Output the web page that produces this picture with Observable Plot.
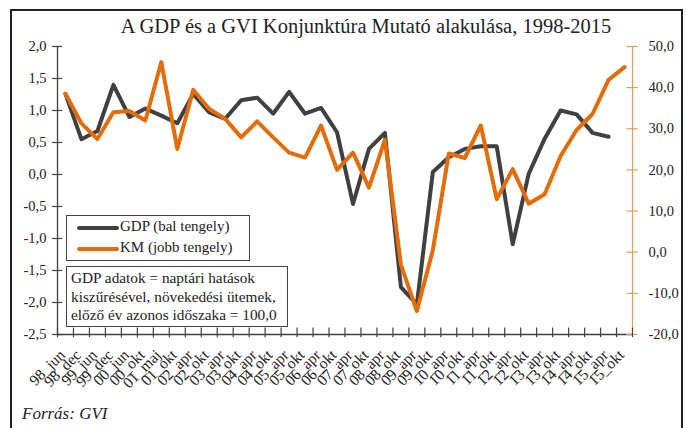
<!DOCTYPE html>
<html>
<head>
<meta charset="utf-8">
<script src="https://cdn.jsdelivr.net/npm/d3@7"></script>
<script src="https://cdn.jsdelivr.net/npm/@observablehq/plot@0.6"></script>
<style>
  html, body { margin: 0; padding: 0; background: #fff; }
  #wrap { position: relative; width: 688px; height: 428px; overflow: hidden; font-family: "Liberation Serif", "DejaVu Serif", serif; color: #222; }
  #frame { position: absolute; left: 10px; top: 9px; width: 673px; height: 440px; border: 2px solid #222; box-sizing: border-box; }
  #chart { position: absolute; left: 0; top: 0; }
  .abs { position: absolute; white-space: nowrap; }
  #title { top: 15px; left: 0; width: 732px; text-align: center; font-size: 20.5px; }
  #legend { left: 66px; top: 215px; width: 184px; height: 46px; border: 1.5px solid #444; box-sizing: border-box; background: #fff; font-size: 15px; }
  #note { left: 66px; top: 266px; width: 222px; height: 61px; border: 1.5px solid #444; box-sizing: border-box; background: #fff; font-size: 15.3px; line-height: 18.5px; padding: 2px 0 0 4px; }
  .sw { position: absolute; left: 10px; width: 42px; height: 4px; border-radius: 2px; }
  .lt { position: absolute; left: 53px; }
  #source { left: 22px; top: 404px; font-size: 17px; font-style: italic; }
</style>
</head>
<body>
<div id="wrap">
  <div id="frame"></div>
  <div id="chart"></div>
  <div id="title" class="abs">A GDP és a GVI Konjunktúra Mutató alakulása, 1998-2015</div>
  <div id="legend" class="abs">
    <div class="sw" style="top:10px;background:#404040"></div><div class="lt" style="top:2px">GDP (bal tengely)</div>
    <div class="sw" style="top:31px;background:#e46c0a"></div><div class="lt" style="top:23px">KM (jobb tengely)</div>
  </div>
  <div id="note" class="abs">GDP adatok = naptári hatások<br>kiszűrésével, növekedési ütemek,<br>előző év azonos időszaka = 100,0</div>
  <div id="source" class="abs">Forrás: GVI</div>
</div>
<script>
const labels = ["98_jun","98_dec","99_jun","99_dec","00_jun","00_okt","01_maj","01_okt",
  "02_apr","02_okt","03_apr","03_okt","04_apr","04_okt","05_apr","05_okt","06_apr","06_okt",
  "07_apr","07_okt","08_apr","08_okt","09_apr","09_okt","10_apr","10_okt","11_apr","11_okt",
  "12_apr","12_okt","13_apr","13_okt","14_apr","14_okt","15_apr","15_okt"];
const gdp = [1.26,0.55,0.68,1.40,0.90,1.03,0.92,0.80,1.26,0.97,0.87,1.16,1.20,0.95,1.29,0.95,1.04,0.66,
  -0.46,0.40,0.65,-1.76,-2.03,0.04,0.27,0.40,0.44,0.44,-1.09,0.01,0.56,1.00,0.94,0.65,0.59,null];
const km = [38.5,31.3,27.5,34.0,34.3,32.0,46.2,25.1,39.5,34.8,32.4,27.9,31.8,27.9,24.2,23.0,30.8,20.0,
  24.2,15.7,27.3,-3.0,-14.3,0.5,24.0,22.9,30.8,12.9,20.2,11.8,14.1,23.4,29.7,33.6,41.9,45.0];
const leftTicks = [-2.5,-2.0,-1.5,-1.0,-0.5,0,0.5,1.0,1.5,2.0];
const rightTicks = [-20,-10,0,10,20,30,40,50];

const gMin = -2.5, gMax = 2.0, kMin = -20, kMax = 50;
const toG = k => gMin + (k - kMin) * (gMax - gMin) / (kMax - kMin);
const fmt = v => (Math.abs(v) < 1e-9 ? 0 : v).toFixed(1).replace(".", ",");

const rows = labels.map((l, i) => ({i, label: l, gdp: gdp[i], km: km[i]}));
const idx = d3.range(labels.length);
const bounds = d3.range(labels.length + 1).map(i => i - 0.5);
const xL = -0.5, xR = labels.length - 0.5;
const dark = "#404040", orange = "#e46c0a", axisOrange = "#f09a5a";

const chart = Plot.plot({
  width: 688, height: 428,
  marginLeft: 57, marginRight: 56, marginTop: 46, marginBottom: 94,
  x: {domain: [xL, xR], axis: null},
  y: {domain: [gMin, gMax], axis: null},
  style: {fontFamily: "Liberation Serif, serif", fontSize: "14px", color: "#222", background: "transparent", overflow: "visible"},
  marks: [
    Plot.ruleX([xL], {stroke: dark, strokeWidth: 1.3}),
    Plot.ruleX([xR], {stroke: axisOrange, strokeWidth: 1.2}),
    Plot.ruleY([gMin], {stroke: dark, strokeWidth: 1.3}),
    Plot.ruleY(leftTicks, {x1: xL - 0.32, x2: xL + 0.32, stroke: dark, strokeWidth: 1.2}),
    Plot.ruleY(rightTicks.map(toG), {x1: xR - 0.36, x2: xR + 0.36, stroke: axisOrange, strokeWidth: 1.2}),
    Plot.ruleX(bounds, {y1: gMin - 0.05, y2: gMin + 0.1, stroke: dark, strokeWidth: 1.2}),
    Plot.text(leftTicks, {x: xL, y: d => d, text: fmt, textAnchor: "end", dx: -11, fill: "#222", fontSize: 14.5}),
    Plot.text(rightTicks, {x: xR, y: toG, text: fmt, textAnchor: "start", dx: 16, fill: "#222", fontSize: 14.5}),
    Plot.text(idx, {x: d => d, y: gMin, text: i => labels[i], rotate: -45, textAnchor: "end", dx: -3, dy: 18, fill: "#222", fontSize: 15.5}),
    Plot.line(rows.filter(d => d.gdp != null), {x: "i", y: "gdp", stroke: dark, strokeWidth: 4, strokeLinejoin: "round"}),
    Plot.line(rows, {x: "i", y: d => toG(d.km), stroke: orange, strokeWidth: 4, strokeLinejoin: "round"}),
  ]
});
document.getElementById("chart").appendChild(chart);
</script>
</body>
</html>
